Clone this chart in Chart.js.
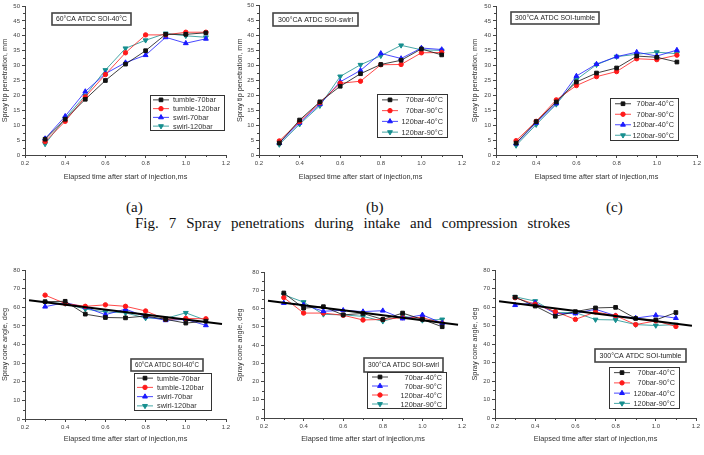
<!DOCTYPE html>
<html lang="en">
<head>
  <meta charset="UTF-8">
  <title>Fig. 7 Spray penetrations</title>
  <script src="https://cdn.jsdelivr.net/npm/chart.js"></script>
  <style>
    body {
      margin: 0;
      background: #fff;
    }

    .page {
      position: relative;
      width: 704px;
      height: 455px;
      overflow: hidden;
    }

    .panel {
      position: absolute;
    }

    .cap {
      position: absolute;
      font-family: "Liberation Serif", "Times New Roman", serif;
      font-size: 15px;
      line-height: 17px;
      color: #111;
      white-space: nowrap;
    }

    .fig-title {
      left: 135px;
      top: 215px;
      width: 435px;
      text-align: justify;
      text-align-last: justify;
    }
  </style>
</head>
<body>
  <div class="page">
    <div class="panel" style="left:0px;top:0px;width:235px;height:185px"><canvas id="cA"></canvas></div>
    <div class="panel" style="left:235px;top:0px;width:235px;height:185px"><canvas id="cB"></canvas></div>
    <div class="panel" style="left:470px;top:0px;width:234px;height:185px"><canvas id="cC"></canvas></div>
    <div class="panel" style="left:0px;top:262px;width:235px;height:185px"><canvas id="cD"></canvas></div>
    <div class="panel" style="left:235px;top:262px;width:235px;height:185px"><canvas id="cE"></canvas></div>
    <div class="panel" style="left:470px;top:262px;width:234px;height:185px"><canvas id="cF"></canvas></div>

    <div class="cap" style="left:126px;top:199px">(a)</div>
    <div class="cap" style="left:366px;top:199px">(b)</div>
    <div class="cap" style="left:606px;top:199px">(c)</div>
    <div class="cap fig-title">Fig. 7 Spray penetrations during intake and compression strokes</div>
  </div>

  <script>
    // elapsed time after start of injection (ms)
    var timeMs = [0.3, 0.4, 0.5, 0.6, 0.7, 0.8, 0.9, 1.0, 1.1];

    // (a) 60CA ATDC SOI-40C, tip penetration (mm)
    var penA_tumble70  = [5.3, 12.0, 18.7, 25.0, 30.5, 35.0, 40.5, 40.5, 41.0];
    var penA_tumble120 = [4.5, 11.3, 19.5, 27.0, 34.3, 40.3, 40.3, 41.2, 41.2];
    var penA_swirl70   = [5.5, 13.0, 21.3, 27.3, 31.0, 33.5, 39.5, 37.5, 39.0];
    var penA_swirl120  = [3.7, 12.3, 20.0, 28.5, 35.8, 38.5, 40.8, 40.0, 39.5];

    // (b) 300CA ATDC SOI-swirl
    var penB_70_40  = [4.0, 11.7, 17.8, 23.0, 27.2, 30.3, 31.7, 35.5, 33.5];
    var penB_70_90  = [4.7, 11.2, 17.5, 24.0, 24.7, 30.2, 30.3, 34.2, 34.3];
    var penB_120_40 = [4.0, 10.8, 17.0, 24.5, 28.3, 34.0, 32.3, 35.8, 35.3];
    var penB_120_90 = [3.5, 10.3, 16.5, 26.3, 30.2, 33.2, 36.7, 35.2, 35.0];

    // (c) 300CA ATDC SOI-tumble
    var penC_70_40  = [4.0, 11.2, 17.8, 24.5, 27.5, 29.2, 33.2, 32.8, 31.2];
    var penC_70_90  = [4.8, 11.3, 18.5, 23.3, 26.3, 28.0, 32.3, 32.0, 33.5];
    var penC_120_40 = [3.8, 10.8, 17.3, 26.5, 30.5, 33.0, 34.5, 33.2, 35.2];
    var penC_120_90 = [3.2, 10.2, 17.0, 25.3, 30.3, 33.0, 33.8, 34.5, 34.0];

    // cone angle (deg), same three cases
    var angA_tumble70  = [63.0, 63.2, 56.3, 54.5, 54.3, 55.3, 53.5, 51.5, 52.5];
    var angA_tumble120 = [66.5, 62.0, 60.5, 61.3, 60.5, 58.0, 53.5, 54.0, 53.8];
    var angA_swirl70   = [60.3, 62.5, 60.0, 56.0, 59.0, 55.0, 53.0, 53.5, 50.3];
    var angA_swirl120  = [62.5, 62.0, 59.0, 57.5, 57.0, 54.2, 54.0, 57.0, 53.0];

    var angB_70_40  = [68.5, 60.2, 61.0, 56.5, 57.3, 54.0, 57.5, 54.0, 50.0];
    var angB_70_90  = [63.0, 62.0, 58.5, 59.0, 58.3, 58.8, 54.5, 56.5, 52.0];
    var angB_120_40 = [66.0, 57.5, 57.5, 56.3, 53.7, 54.0, 55.0, 55.0, 52.0];
    var angB_120_90 = [67.5, 63.5, 56.8, 56.5, 55.7, 53.0, 56.0, 53.5, 54.0];

    var angC_70_40  = [65.3, 60.5, 55.0, 57.5, 59.5, 59.8, 53.8, 53.0, 57.0];
    var angC_70_90  = [65.0, 61.5, 57.5, 53.3, 57.3, 55.3, 50.5, 52.5, 49.5];
    var angC_120_40 = [61.0, 62.3, 56.5, 56.5, 58.8, 55.3, 54.0, 55.5, 54.0];
    var angC_120_90 = [65.5, 63.2, 57.0, 57.0, 53.2, 53.0, 50.5, 50.0, 50.5];

    // linear fit lines on the cone angle plots
    var trendX = [0.22, 1.18];
    var angA_trend = [63.8, 51.0];
    var angB_trend = [64.3, 51.1];
    var angC_trend = [63.1, 49.9];

    var labelsA = ['tumble-70bar', 'tumble-120bar', 'swirl-70bar', 'swirl-120bar'];
    var labelsBC = ['70bar-40\u00b0C', '70bar-90\u00b0C', '120bar-40\u00b0C', '120bar-90\u00b0C'];

    var penTitle = 'Spray tip penetration, mm';
    var angTitle = 'Spray cone angle, deg';
    var xTitle = 'Elapsed time after start of injection,ms';

    var BLACK = { color: '#111111', style: 'rect', radius: 2.6, rot: 0 };
    var RED = { color: '#ff1a1a', style: 'circle', radius: 2.2, rot: 0 };
    var BLUE = { color: '#1a1aff', style: 'triangle', radius: 2.8, rot: 0 };
    var TEAL = { color: '#168f8f', style: 'triangle', radius: 2.8, rot: 180 };

    var FONT = '"Liberation Sans", Arial, sans-serif';

    function pts(xs, ys) {
      return xs.map(function (x, i) { return { x: x, y: ys[i] }; });
    }

    function series(label, ys, s) {
      return {
        label: label,
        data: pts(timeMs, ys),
        borderColor: s.color,
        backgroundColor: s.color,
        borderWidth: 0.8,
        pointStyle: s.style,
        pointRadius: s.radius,
        pointRotation: s.rot,
        pointBorderWidth: 1,
        pointBackgroundColor: s.color,
        pointBorderColor: s.color,
        tension: 0
      };
    }

    function trend(ys) {
      return {
        label: '',
        data: pts(trendX, ys),
        borderColor: '#000',
        borderWidth: 2,
        pointRadius: 0,
        order: -1
      };
    }

    function marker(ctx, ds, x, y) {
      ctx.fillStyle = ds.pointBackgroundColor;
      ctx.strokeStyle = ds.pointBorderColor;
      ctx.lineWidth = 1;
      if (Chart.helpers && Chart.helpers.drawPoint) {
        Chart.helpers.drawPoint(ctx, {
          pointStyle: ds.pointStyle,
          radius: ds.pointRadius,
          rotation: ds.pointRotation || 0,
          borderWidth: 1
        }, x, y);
      } else {
        ctx.fillRect(x - 2, y - 2, 4, 4);
      }
    }

    // minor ticks, legend box and condition label, drawn like the Origin plots
    var boxLegend = {
      id: 'boxLegend',
      afterDraw: function (chart, args, opts) {
        var ctx = chart.ctx;
        ctx.save();

        // minor ticks halfway between the major ones
        ctx.strokeStyle = '#444';
        ctx.lineWidth = 1;
        var xs = chart.scales.x, ys = chart.scales.y;
        for (var i = 1; i < xs.ticks.length; i++) {
          var px = Math.round(xs.getPixelForValue((xs.ticks[i - 1].value + xs.ticks[i].value) / 2)) + 0.5;
          ctx.beginPath();
          ctx.moveTo(px, xs.top);
          ctx.lineTo(px, xs.top + 2);
          ctx.stroke();
        }
        for (var j = 1; j < ys.ticks.length; j++) {
          var py = Math.round(ys.getPixelForValue((ys.ticks[j - 1].value + ys.ticks[j].value) / 2)) + 0.5;
          ctx.beginPath();
          ctx.moveTo(ys.right, py);
          ctx.lineTo(ys.right - 2, py);
          ctx.stroke();
        }

        var n = opts.note;
        if (n) {
          ctx.fillStyle = '#fff';
          ctx.fillRect(n.x, n.y, n.w, n.h);
          ctx.strokeStyle = '#444';
          ctx.lineWidth = 1.6;
          ctx.strokeRect(n.x, n.y, n.w, n.h);
          ctx.fillStyle = '#222';
          ctx.font = '7px ' + FONT;
          ctx.textAlign = 'center';
          ctx.textBaseline = 'middle';
          var tw = ctx.measureText(n.text).width;
          var k = Math.min(1, (n.w - 8) / tw);
          ctx.save();
          ctx.translate(n.x + n.w / 2, n.y + n.h / 2 + 0.5);
          ctx.scale(k, 1);
          ctx.fillText(n.text, 0, 0);
          ctx.restore();
        }

        var b = opts.box;
        var items = chart.data.datasets.filter(function (d) { return d.label; });
        ctx.fillStyle = '#fff';
        ctx.fillRect(b.x, b.y, b.w, b.h);
        ctx.strokeStyle = '#333';
        ctx.lineWidth = 1;
        ctx.strokeRect(b.x + 0.5, b.y + 0.5, b.w, b.h);

        var rowH = b.h / items.length;
        var lx = opts.align === 'right' ? 5 : 3;
        items.forEach(function (d, i) {
          var cy = b.y + rowH * (i + 0.5) + 0.5;
          ctx.strokeStyle = d.borderColor;
          ctx.lineWidth = 0.8;
          ctx.beginPath();
          ctx.moveTo(b.x + lx, cy);
          ctx.lineTo(b.x + lx + 16, cy);
          ctx.stroke();
          marker(ctx, d, b.x + lx + 8, cy);

          ctx.fillStyle = '#333';
          ctx.font = '7.3px ' + FONT;
          ctx.textBaseline = 'middle';
          if (opts.align === 'right') {
            ctx.textAlign = 'right';
            ctx.fillText(d.label, b.x + b.w - 4, cy + 0.5);
          } else {
            ctx.textAlign = 'left';
            ctx.fillText(d.label, b.x + 23, cy + 0.5);
          }
        });
        ctx.restore();
      }
    };

    function makePanel(id, size, plot, yMax, yStep, yTitle, datasets, legend) {
      var tickFont = { family: FONT, size: 6 };
      var titleFont = { family: FONT, size: 7.3 };
      return new Chart(document.getElementById(id), {
        type: 'line',
        data: { datasets: datasets },
        plugins: [boxLegend],
        options: {
          responsive: true,
          maintainAspectRatio: false,
          animation: false,
          layout: { padding: { top: plot.t, right: size.w - plot.r, left: 0, bottom: 0 } },
          plugins: {
            legend: { display: false },
            tooltip: { enabled: false },
            boxLegend: legend
          },
          scales: {
            x: {
              type: 'linear',
              min: 0.2,
              max: 1.2,
              afterFit: function (s) { s.height = size.h - plot.b; },
              ticks: {
                stepSize: 0.2,
                color: '#444',
                font: tickFont,
                padding: 2,
                maxRotation: 0,
                callback: function (v) { return v.toFixed(1); }
              },
              grid: { drawOnChartArea: false, tickLength: 3, color: '#444' },
              border: { color: '#444', width: 1 },
              title: { display: true, text: xTitle, color: '#333', font: titleFont, padding: { top: 5 } }
            },
            y: {
              min: 0,
              max: yMax,
              afterFit: function (s) { s.width = plot.l; },
              ticks: { stepSize: yStep, color: '#444', font: tickFont, padding: 2 },
              grid: { drawOnChartArea: false, tickLength: 3, color: '#444' },
              border: { color: '#444', width: 1 },
              title: { display: true, text: yTitle, color: '#333', font: titleFont, padding: 1 }
            }
          }
        }
      });
    }

    var W = { w: 235, h: 185 };
    var W3 = { w: 234, h: 185 };

    makePanel('cA', W, { l: 25, t: 6, r: 226, b: 155 }, 50, 5, penTitle, [
      series(labelsA[0], penA_tumble70, BLACK),
      series(labelsA[1], penA_tumble120, RED),
      series(labelsA[2], penA_swirl70, BLUE),
      series(labelsA[3], penA_swirl120, TEAL)
    ], {
      box: { x: 150, y: 95, w: 74, h: 35 },
      note: { x: 52, y: 13, w: 79, h: 12, text: '60\u00b0CA ATDC SOI-40\u00b0C' },
      align: 'left'
    });

    makePanel('cB', W, { l: 24, t: 5, r: 227, b: 155 }, 50, 5, penTitle, [
      series(labelsBC[0], penB_70_40, BLACK),
      series(labelsBC[1], penB_70_90, RED),
      series(labelsBC[2], penB_120_40, BLUE),
      series(labelsBC[3], penB_120_90, TEAL)
    ], {
      box: { x: 142, y: 94, w: 70, h: 43 },
      note: { x: 38, y: 13, w: 85, h: 13, text: '300\u00b0CA ATDC SOI-swirl' },
      align: 'right'
    });

    makePanel('cC', W3, { l: 26, t: 6, r: 227, b: 155 }, 50, 5, penTitle, [
      series(labelsBC[0], penC_70_40, BLACK),
      series(labelsBC[1], penC_70_90, RED),
      series(labelsBC[2], penC_120_40, BLUE),
      series(labelsBC[3], penC_120_90, TEAL)
    ], {
      box: { x: 140, y: 98, w: 68, h: 42 },
      note: { x: 41, y: 12, w: 88, h: 12, text: '300\u00b0CA ATDC SOI-tumble' },
      align: 'right'
    });

    makePanel('cD', W, { l: 25, t: 8, r: 226, b: 157 }, 80, 10, angTitle, [
      trend(angA_trend),
      series(labelsA[0], angA_tumble70, BLACK),
      series(labelsA[1], angA_tumble120, RED),
      series(labelsA[2], angA_swirl70, BLUE),
      series(labelsA[3], angA_swirl120, TEAL)
    ], {
      box: { x: 134, y: 111, w: 77, h: 37 },
      note: { x: 131, y: 97, w: 72, h: 12, text: '60\u00b0CA ATDC SOI-40\u00b0C' },
      align: 'left'
    });

    makePanel('cE', W, { l: 29, t: 10, r: 227, b: 156 }, 80, 10, angTitle, [
      trend(angB_trend),
      series(labelsBC[0], angB_70_40, BLACK),
      series(labelsBC[1], angB_70_90, BLUE),
      series(labelsBC[2], angB_120_40, RED),
      series(labelsBC[3], angB_120_90, TEAL)
    ], {
      box: { x: 132, y: 110, w: 79, h: 36 },
      note: { x: 129, y: 96, w: 79, h: 14, text: '300\u00b0CA ATDC SOI-swirl' },
      align: 'right'
    });

    makePanel('cF', W3, { l: 25, t: 8, r: 226, b: 156 }, 80, 10, angTitle, [
      trend(angC_trend),
      series(labelsBC[0], angC_70_40, BLACK),
      series(labelsBC[1], angC_70_90, RED),
      series(labelsBC[2], angC_120_40, BLUE),
      series(labelsBC[3], angC_120_90, TEAL)
    ], {
      box: { x: 139, y: 105, w: 70, h: 41 },
      note: { x: 125, y: 87, w: 91, h: 13, text: '300\u00b0CA ATDC SOI-tumble' },
      align: 'right'
    });
  </script>
</body>
</html>
